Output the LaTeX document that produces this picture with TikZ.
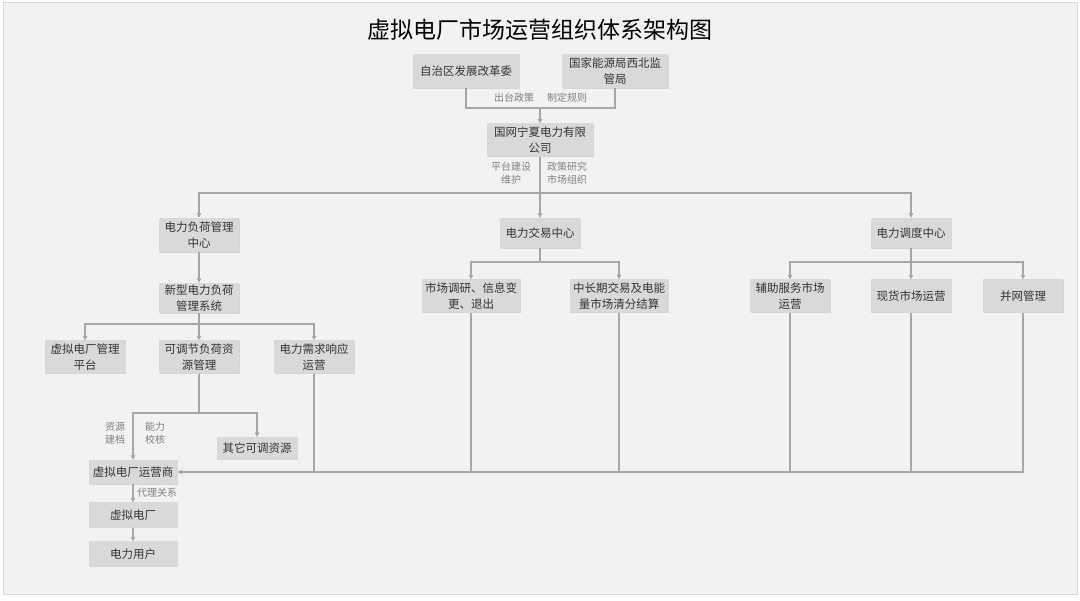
\documentclass[tikz,border=0pt]{standalone}
\usepackage{fontspec}
\newfontfamily\cjk{Noto Sans CJK SC}
\usetikzlibrary{arrows.meta,shadows}
\definecolor{panel}{HTML}{F2F2F2}
\definecolor{panelline}{HTML}{D9D9D9}
\definecolor{boxfill}{HTML}{D9D9D9}
\definecolor{linegray}{HTML}{A6A6A6}
\definecolor{txt}{HTML}{333333}
\definecolor{lbl}{HTML}{7F7F7F}
\tikzset{
  box/.style={rectangle, fill=boxfill, text=txt, align=center, inner sep=0pt,
    font=\cjk\fontsize{11.5}{15.5}\selectfont,
    drop shadow={shadow xshift=0.8pt, shadow yshift=-1pt, opacity=0.25, fill=gray}},
  conn/.style={draw=linegray, line width=1.2pt},
  arr/.style={conn, -{Triangle[width=4.5pt,length=4.5pt]}},
  lab/.style={text=lbl, align=center, inner sep=0pt, font=\cjk\fontsize{10}{13}\selectfont},
}
\begin{document}
\begin{tikzpicture}[x=1pt,y=-1pt]
\useasboundingbox (0,0) rectangle (1080,601);
\fill[white] (0,0) rectangle (1080,601);
\draw[fill=panel, draw=panelline, line width=1pt] (3,3) rectangle (1077,595);
\node[text=black, font=\cjk\fontsize{23}{26}\selectfont] (title) at (540,30) {虚拟电厂市场运营组织体系架构图};

% top level
\node[box, minimum width=107pt, minimum height=34pt] (zz) at (466,71) {自治区发展改革委};
\node[box, minimum width=106pt, minimum height=34pt] (gj) at (615,71) {国家能源局西北监\\管局};
\node[box, minimum width=106pt, minimum height=33pt] (gw) at (540,140) {国网宁夏电力有限\\公司};

% centers
\node[box, minimum width=80pt, minimum height=34pt] (fh) at (199,235) {电力负荷管理\\中心};
\node[box, minimum width=80pt, minimum height=30pt] (jy) at (540,233) {电力交易中心};
\node[box, minimum width=81pt, minimum height=30pt] (dd) at (911,233) {电力调度中心};

% left branch
\node[box, minimum width=80pt, minimum height=30pt] (xx) at (199,298) {新型电力负荷\\管理系统};
\node[box, minimum width=81pt, minimum height=33pt] (pt) at (85,357) {虚拟电厂管理\\平台};
\node[box, minimum width=80pt, minimum height=33pt] (kt) at (199,357) {可调节负荷资\\源管理};
\node[box, minimum width=80pt, minimum height=33pt] (xq) at (314,357) {电力需求响应\\运营};
\node[box, minimum width=81pt, minimum height=22pt] (qt) at (257,448) {其它可调资源};
\node[box, minimum width=89pt, minimum height=24pt] (yy) at (133,472) {虚拟电厂运营商};
\node[box, minimum width=89pt, minimum height=25pt] (vp) at (133,515) {虚拟电厂};
\node[box, minimum width=89pt, minimum height=25pt] (yh) at (133,554) {电力用户};

% middle branch
\node[box, minimum width=99pt, minimum height=33pt] (sc) at (471,296) {市场调研、信息变\\更、退出};
\node[box, minimum width=99pt, minimum height=33pt] (zc) at (619,296) {中长期交易及电能\\量市场清分结算};

% right branch
\node[box, minimum width=80pt, minimum height=33pt] (fz) at (790,296) {辅助服务市场\\运营};
\node[box, minimum width=81pt, minimum height=33pt] (xh) at (911,296) {现货市场运营};
\node[box, minimum width=80pt, minimum height=33pt] (bw) at (1023,296) {并网管理};

% junction coordinates
\coordinate (j1) at (540,108);
\coordinate (j2) at (540,193);
\coordinate (j3) at (199,324);
\coordinate (j4) at (540,262);
\coordinate (j5) at (911,262);
\coordinate (j6) at (199,413);

% connectors
\draw[conn] (zz.south) |- (j1);
\draw[conn] (gj.south) |- (j1);
\draw[arr] (j1) -- (gw.north);

\draw[conn] (gw.south) -- (j2);
\draw[arr] (j2) -| (fh.north);
\draw[arr] (j2) -- (jy.north);
\draw[arr] (j2) -| (dd.north);

\draw[arr] (fh.south) -- (xx.north);
\draw[conn] (xx.south) -- (j3);
\draw[arr] (j3) -| (pt.north);
\draw[arr] (j3) -- (kt.north);
\draw[arr] (j3) -| (xq.north);

\draw[conn] (jy.south) -- (j4);
\draw[arr] (j4) -| (sc.north);
\draw[arr] (j4) -| (zc.north);

\draw[conn] (dd.south) -- (j5);
\draw[arr] (j5) -| (fz.north);
\draw[arr] (j5) -- (xh.north);
\draw[arr] (j5) -| (bw.north);

\draw[conn] (kt.south) -- (j6);
\draw[arr] (j6) -| (yy.north);
\draw[arr] (j6) -| (qt.north);

\draw[arr] (bw.south) |- (yy.east);
\draw[conn] (xh.south) -- (xh.south |- yy.east);
\draw[conn] (fz.south) -- (fz.south |- yy.east);
\draw[conn] (zc.south) -- (zc.south |- yy.east);
\draw[conn] (sc.south) -- (sc.south |- yy.east);
\draw[conn] (xq.south) -- (xq.south |- yy.east);

\draw[arr] (yy.south) -- (vp.north);
\draw[arr] (vp.south) -- (yh.north);

% labels
\node[lab] (l1) at (514,98) {出台政策};
\node[lab] (l2) at (567,98) {制定规则};
\node[lab] (l3) at (511,173) {平台建设\\维护};
\node[lab] (l4) at (567,173) {政策研究\\市场组织};
\node[lab] (l5) at (115,433) {资源\\建档};
\node[lab] (l6) at (155,433) {能力\\校核};
\node[lab] (l7) at (157,493) {代理关系};
\end{tikzpicture}
\end{document}
